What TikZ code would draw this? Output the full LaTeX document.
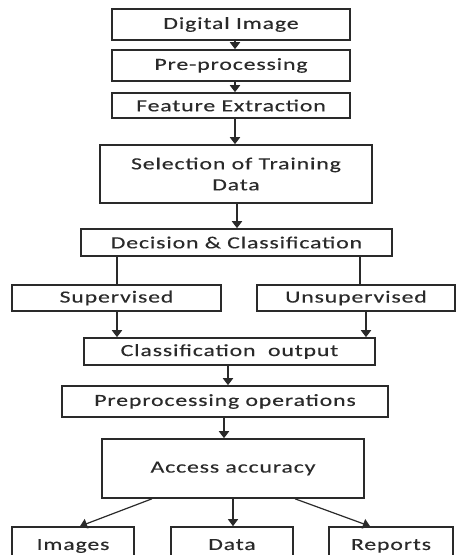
\documentclass[tikz,border=0pt]{standalone}
\usepackage{fontspec}
\setmainfont{Carlito}[FakeStretch=1.4, LetterSpace=5, FakeBold=0.25]
\usetikzlibrary{arrows.meta}
\definecolor{ink}{HTML}{2A2A2A}
\begin{document}
\begin{tikzpicture}[x=1pt, y=-1pt,
  box/.style={draw=ink, line width=1.6pt, fill=white, inner sep=0pt,
    font=\fontsize{17}{21}\selectfont, text=ink, align=center},
  flow/.style={draw=ink, line width=1.8pt, -{Triangle[width=10pt,length=7pt]}},
  link/.style={draw=ink, line width=1.8pt},
  thin flow/.style={draw=ink, line width=1.2pt, -{Triangle[width=10pt,length=7pt]}}]
\useasboundingbox (0,0) rectangle (457,555);
\clip (0,0) rectangle (457,555);
\fill[white] (0,0) rectangle (457,555);

% main chain
\node[box, minimum width=238pt, minimum height=31pt] (dig) at (231,24.5) {Digital Image};
\node[box, minimum width=238pt, minimum height=31pt] (pre) at (231,65.5) {Pre-processing};
\node[box, minimum width=238pt, minimum height=25pt] (fe)  at (231,105.5) {Feature Extraction};
\node[box, minimum width=272pt, minimum height=58pt] (sel) at (236,174) {Selection of Training\\Data};
\node[box, minimum width=311pt, minimum height=27pt] (dec) at (236.5,242.5) {Decision \& Classification};

% two branches
\node[box, minimum width=209pt, minimum height=26pt] (sup) at (116.5,298) {Supervised};
\node[box, minimum width=198pt, minimum height=26pt] (uns) at (356,298) {Unsupervised};

\node[box, minimum width=291pt, minimum height=27pt] (cls) at (229.5,351.5) {Classification\ \ output};
\node[box, minimum width=326pt, minimum height=31pt] (ppo) at (225,401.5) {Preprocessing operations};
\node[box, minimum width=262pt, minimum height=59pt] (acc) at (233,468.5) {Access accuracy};

% outputs
\node[box, minimum width=122pt, minimum height=43pt] (img) at (73,548.5) {\raisebox{8pt}{Images}};
\node[box, minimum width=122pt, minimum height=43pt] (dat) at (232,548.5) {\raisebox{8pt}{Data}};
\node[box, minimum width=124pt, minimum height=43pt] (rep) at (391,548.5) {\raisebox{8pt}{Reports}};

% connectors
\coordinate (a1) at (235,0);
\draw[flow] (dig.south -| a1) -- (pre.north -| a1);
\draw[flow] (pre.south -| a1) -- (fe.north -| a1);
\draw[flow] (fe.south -| a1) -- (sel.north -| a1);
\coordinate (a2) at (237,0);
\draw[flow] (sel.south -| a2) -- (dec.north -| a2);

\coordinate (b1) at (117,0);
\coordinate (b2) at (360,0);
\draw[link] (dec.south -| b1) -- (sup.north -| b1);
\draw[link] (dec.south -| b2) -- (uns.north -| b2);

\coordinate (c1) at (117,0);
\coordinate (c2) at (366,0);
\draw[flow] (sup.south -| c1) -- (cls.north -| c1);
\draw[flow] (uns.south -| c2) -- (cls.north -| c2);

\coordinate (d1) at (228,0);
\draw[flow] (cls.south -| d1) -- (ppo.north -| d1);
\coordinate (d2) at (224,0);
\draw[flow] (ppo.south -| d2) -- (acc.north -| d2);

\coordinate (e1) at (152,0);
\coordinate (e2) at (80,0);
\coordinate (e3) at (233,0);
\coordinate (e4) at (295,0);
\coordinate (e5) at (370,0);
\draw[thin flow] (acc.south -| e1) -- (img.north -| e2);
\draw[thin flow] (acc.south -| e3) -- (dat.north -| e3);
\draw[thin flow] (acc.south -| e4) -- (rep.north -| e5);
\end{tikzpicture}
\end{document}
